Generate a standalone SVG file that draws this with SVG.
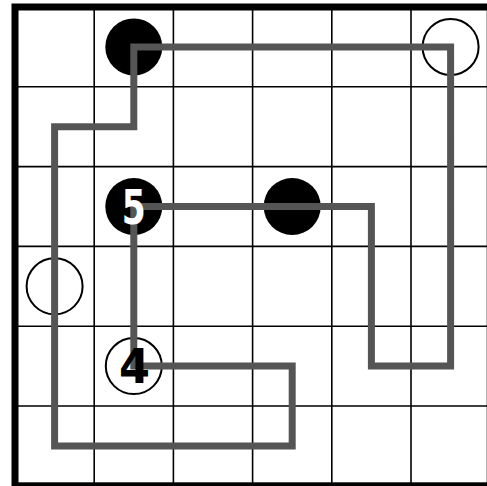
<svg xmlns="http://www.w3.org/2000/svg" width="487" height="486" viewBox="0 0 487 486">
<style>
.grid{stroke:#000;stroke-width:1.6;fill:none}
.border{stroke:#000;stroke-width:7;fill:none}
.black{fill:#000}
.white{fill:#fff;stroke:#000;stroke-width:2}
.loop{fill:none;stroke:#555;stroke-width:7;stroke-linejoin:miter}
.num{font-family:"DejaVu Sans",sans-serif;font-size:48px;font-weight:bold;text-anchor:middle}
</style>
<rect width="487" height="486" fill="#fff"/>
<g id="grid">
<path class="grid" d="M94.2,7V485.8M173.4,7V485.8M252.6,7V485.8M331.8,7V485.8M411,7V485.8M15,86.8H490.2M15,166.6H490.2M15,246.4H490.2M15,326.2H490.2M15,406H490.2"/>
<rect class="border" x="15" y="7" width="475.2" height="478.8"/>
</g>
<g id="c1"><circle class="black" cx="133.8" cy="46.9" r="28.5"/></g>
<g id="c2"><circle class="white" cx="450.6" cy="46.9" r="28"/></g>
<g id="c3"><circle class="black" cx="133.8" cy="206.5" r="28.5"/></g>
<g id="c4"><circle class="black" cx="292.2" cy="206.5" r="28.5"/></g>
<g id="c5"><circle class="white" cx="54.6" cy="286.3" r="28"/></g>
<g id="c6"><circle class="white" cx="133.8" cy="366.1" r="28"/></g>
<g id="connectors">
<path class="loop" d="M133.8,366.1V206.5H371.4V366.1H450.6V46.9H133.8V126.7H54.6V445.9H292.2V366.1Z"/>
</g>
<g id="labels">
<text class="num" x="133.8" y="223.5" fill="#fff" textLength="24" lengthAdjust="spacingAndGlyphs">5</text>
<text class="num" x="134.5" y="383" fill="#000" textLength="31" lengthAdjust="spacingAndGlyphs">4</text>
</g>
</svg>
